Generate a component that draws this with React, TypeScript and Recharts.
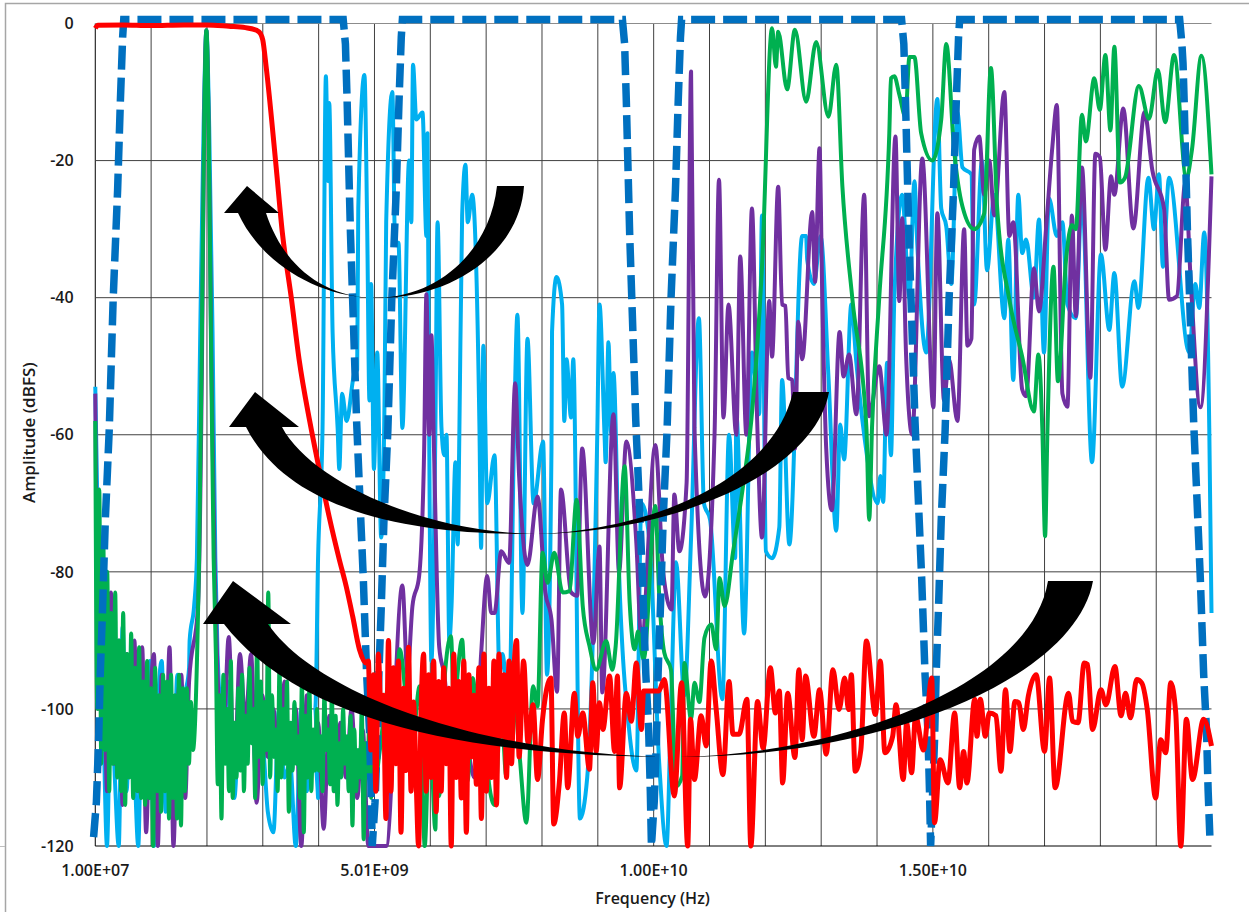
import React from "react";
import { LineChart, Line, XAxis, YAxis, ReferenceLine } from "recharts";

type Pt = [number, number];

const gridFreqs = [0.01, 1.01, 2.01, 3.01, 4.01, 5.01, 6.01, 7.01, 8.01, 9.01, 10.01, 11.01, 12.01, 13.01, 14.01, 15.01, 16.01, 17.01, 18.01, 19.01];
const labelledFreqs = [0.01, 5.01, 10.01, 15.01];
const tickLabels: Record<string, string> = { "0.01": "1.00E+07", "5.01": "5.01E+09", "10.01": "1.00E+10", "15.01": "1.50E+10" };
const levelTicks = [0, -20, -40, -60, -80, -100, -120];

const redPlateau: Pt[] = [[0.01, -0.7], [0.06, -0.25], [0.5, -0.2], [1, -0.3], [1.6, -0.2], [2, -0.2], [2.4, -0.4], [2.7, -0.6], [2.9, -1], [2.97, -1.5], [3.01, -2.4], [3.07, -6.3], [3.25, -21], [3.36, -30.5], [3.52, -40], [3.66, -49], [3.85, -58], [4.02, -65], [4.2, -72], [4.38, -78.2], [4.5, -82], [4.62, -86.5], [4.74, -91.3], [4.86, -93.3]];
const redDense = [-93, -106, -95, -112, -92, -100, -98, -116, -90, -112, -94, -108, -93, -118, -97, -109, -91, -112, -99, -110, -120, -100, -92, -112, -95, -110, -93, -115, -96, -112, -94, -108, -97, -120, -92, -110, -96, -113, -93, -118, -95, -107, -98, -111, -94, -116, -92, -112, -97, -110, -93, -114, -92, -104, -95, -110, -93, -108, -94, -90, -107];
const redFloor: Pt[] = [[7.68, -93], [7.76, -105], [7.85, -99.4], [7.93, -110.3], [8.02, -101.5], [8.17, -95.5], [8.22, -116.8], [8.32, -110.8], [8.41, -100.6], [8.47, -111.5], [8.59, -97.7], [8.65, -104], [8.74, -100.6], [8.86, -108.8], [8.92, -96.2], [8.98, -106.2], [9.04, -99.1], [9.1, -103], [9.22, -95.2], [9.31, -106.2], [9.36, -95.2], [9.4, -111.5], [9.52, -97.7], [9.61, -101.8], [9.7, -93.3], [9.79, -103], [9.83, -97.4], [10.1, -97.4], [10.2, -95.7], [10.38, -112.7], [10.51, -96.2], [10.62, -120], [10.67, -101.5], [10.74, -110.3], [10.86, -101], [10.95, -105.4], [11.04, -93], [11.13, -100.1], [11.25, -109.6], [11.36, -96], [11.43, -103.7], [11.54, -103.7], [11.68, -98.6], [11.75, -120], [11.87, -98.9], [11.97, -105.7], [12.1, -94], [12.19, -100.6], [12.26, -97.4], [12.32, -110.8], [12.41, -97.7], [12.54, -107.1], [12.61, -94.3], [12.67, -104.5], [12.73, -95.2], [12.88, -104], [12.98, -97.2], [13.1, -106.6], [13.22, -94.3], [13.33, -100.1], [13.43, -95.5], [13.5, -100.1], [13.55, -95], [13.62, -109.1], [13.72, -106], [13.82, -90.1], [13.98, -100.8], [14.07, -93], [14.15, -106.4], [14.29, -104], [14.35, -99.4], [14.48, -110.3], [14.54, -102], [14.63, -109.3], [14.7, -101], [14.84, -106], [14.99, -95.5], [15.04, -116.6], [15.14, -107.4], [15.28, -110.8], [15.4, -100.6], [15.49, -111.5], [15.56, -106.2], [15.62, -110.8], [15.76, -98.6], [15.8, -104], [15.86, -98.6], [15.95, -104], [16.02, -100.6], [16.14, -101], [16.23, -109.1], [16.31, -97.2], [16.39, -106.2], [16.48, -98.9], [16.55, -99.1], [16.63, -103], [16.72, -98.1], [16.86, -95], [17.01, -106.2], [17.1, -95.5], [17.2, -111.5], [17.44, -97.7], [17.51, -101.8], [17.61, -102], [17.72, -93.3], [17.78, -93.5], [17.87, -103], [18.02, -97.2], [18.11, -99.4], [18.27, -93.8], [18.38, -101], [18.46, -97.7], [18.55, -101.3], [18.66, -95.7], [18.75, -96.2], [18.85, -100.1], [19, -113], [19.09, -104.5], [19.18, -106.4], [19.27, -96.2], [19.36, -100.6], [19.45, -120], [19.55, -101.5], [19.66, -110.3], [19.86, -101.5], [20, -105.4]];

const greenNoiseLow = [-58, -100, -68, -108, -75, -106, -80, -112, -86, -108, -83, -110, -90, -112, -86, -114, -92, -110, -89, -113, -94, -112, -91, -113, -96, -114, -93, -113, -97, -120, -94, -112, -98, -115, -95, -112, -96, -116, -95, -113, -98, -116, -95, -117, -97, -112, -97, -108, -99, -106];
const greenTone: Pt[] = [[1.84, -90], [1.87, -78], [1.92, -45], [1.96, -15], [2, -1], [2.04, -15], [2.08, -45], [2.13, -78]];
const greenNoiseMid = [-92, -111, -98, -116, -95, -108, -100, -112, -93, -113, -102, -110, -97, -109, -95, -112, -101, -108, -94, -105, -100, -113, -90, -107, -96, -111, -99, -106, -83, -110, -98, -107, -103, -112, -94, -110, -100, -108, -96, -115, -102, -109, -99, -108, -104, -113, -96, -118, -101, -110, -97, -112, -103, -109, -100, -109, -104, -112, -98, -106, -103, -111, -98, -112, -101, -114, -105, -110, -100, -108, -104, -112, -101, -117, -103, -112, -106, -110, -100, -119, -105, -110, -102, -113, -101, -111];
const greenHigh: Pt[] = [[5.1, -106.4], [5.28, -96.2], [5.37, -104], [5.46, -91.3], [5.58, -99], [5.67, -106.4], [5.82, -96.7], [5.91, -120], [6, -101.5], [6.1, -117.6], [6.14, -98], [6.17, -112.7], [6.26, -96.2], [6.38, -89.4], [6.44, -101.5], [6.5, -94.7], [6.58, -89.9], [6.68, -110.5], [6.77, -95.5], [6.92, -110.8], [6.98, -96.7], [7.06, -110.8], [7.16, -114], [7.28, -100], [7.37, -109.8], [7.46, -93.3], [7.61, -106.9], [7.73, -116.6], [7.85, -96.7], [7.93, -99.6], [8.02, -77.2], [8.11, -81.6], [8.23, -77.2], [8.38, -83], [8.5, -82.8], [8.63, -69.5], [8.74, -85], [8.86, -90.8], [8.98, -94.3], [9.16, -90.1], [9.27, -94.3], [9.33, -90.8], [9.49, -64.6], [9.58, -84.5], [9.67, -91.3], [9.73, -88.7], [9.83, -92.8], [10.04, -70.4], [10.11, -83.6], [10.2, -91.8], [10.32, -94.3], [10.41, -111.3], [10.52, -109.8], [10.56, -93.3], [10.68, -101.5], [10.74, -96.2], [10.83, -99], [10.92, -89.6], [11.04, -87.7], [11.13, -91.3], [11.19, -80.9], [11.28, -85], [11.43, -77.2], [11.61, -67.5], [11.76, -57.8], [11.95, -35.5], [12.13, -0.7], [12.2, -6.3], [12.24, -1.2], [12.4, -9.6], [12.54, -0.9], [12.74, -11.4], [12.92, -2.7], [13.14, -13.6], [13.28, -6], [13.39, -23.8], [13.57, -40.3], [13.82, -59], [13.87, -72.4], [13.92, -59], [14.05, -40], [14.23, -16], [14.26, -8], [14.32, -7.7], [14.41, -10.4], [14.52, -13.6], [14.59, -4.9], [14.68, -4.9], [14.8, -16], [15, -20], [15.16, -14], [15.25, -3], [15.39, -18.4], [15.54, -26.7], [15.75, -30], [15.93, -27.7], [16.05, -6.5], [16.16, -26.7], [16.38, -40.3], [16.61, -48.6], [16.82, -56.6], [16.9, -48.3], [16.97, -59], [17.02, -74.8], [17.06, -60], [17.17, -35.5], [17.25, -52.2], [17.4, -34], [17.5, -29.4], [17.57, -30], [17.68, -13.3], [17.75, -17.2], [17.9, -8], [18, -12.6], [18.1, -4.6], [18.19, -15.6], [18.26, -3.4], [18.36, -23.2], [18.45, -22.5], [18.7, -9.1], [18.88, -13.9], [19.04, -6.8], [19.17, -14.4], [19.33, -4.6], [19.55, -22.6], [19.65, -18.4], [19.82, -4.7], [20, -22]];

const purpleNoiseLow = [-54, -100, -84, -112, -83, -108, -90, -114, -92, -105, -90, -112, -91, -118, -100, -92, -120, -95, -108, -91, -120, -100, -95, -113, -96];
const purpleTone: Pt[] = [[1.85, -85], [1.92, -50], [1.96, -15], [2, -1], [2.04, -15], [2.09, -50], [2.15, -80]];
const purpleNoiseMid = [-95, -105, -89.5, -110, -92, -102, -92, -113.7, -98, -107, -100, -110, -96, -109, -100, -120, -98, -108, -102, -117.5, -101, -112, -102, -110, -100, -113, -103, -120];
const purpleHigh: Pt[] = [[5.22, -120], [5.51, -82], [5.6, -95], [5.69, -85], [5.81, -80.6], [5.9, -62], [5.94, -39.5], [5.99, -60], [6.03, -45.5], [6.07, -60], [6.17, -91], [6.26, -95], [6.44, -110], [6.62, -104], [6.8, -110], [6.92, -92], [7.03, -80.6], [7.1, -86], [7.16, -86], [7.28, -77], [7.42, -78.7], [7.53, -52.5], [7.6, -66], [7.75, -79], [7.93, -69], [8.07, -83], [8.18, -87], [8.28, -97.5], [8.35, -68], [8.53, -83], [8.64, -83.5], [8.73, -62], [8.93, -90.4], [9.04, -76.3], [9.09, -97.6], [9.29, -57], [9.39, -80], [9.52, -61], [9.7, -75.8], [9.79, -90], [10.04, -61.5], [10.18, -80], [10.33, -85.5], [10.38, -68.7], [10.47, -77], [10.6, -67], [10.68, -7], [10.74, -59], [10.93, -83.6], [11.1, -60], [11.18, -22.8], [11.26, -57.5], [11.35, -41], [11.49, -60], [11.56, -34], [11.67, -60], [11.77, -27], [11.86, -57], [11.95, -75], [12.08, -40.5], [12.13, -48.6], [12.24, -23.8], [12.31, -41], [12.37, -41.2], [12.42, -51.7], [12.49, -52], [12.54, -62], [12.6, -43.5], [12.67, -49], [12.85, -27.5], [12.9, -37.7], [12.98, -18.2], [13.03, -40], [13.1, -62], [13.2, -71], [13.34, -45], [13.41, -51.5], [13.51, -48.3], [13.64, -57], [13.78, -25], [13.87, -57.3], [14.05, -50], [14.18, -60], [14.34, -16.5], [14.41, -40.5], [14.46, -28.4], [14.53, -48.3], [14.64, -60], [14.82, -19.7], [15.02, -56], [15.09, -27.7], [15.21, -55], [15.3, -49], [15.45, -58], [15.57, -30], [15.63, -47], [15.7, -46], [15.75, -18.4], [15.84, -16.5], [15.93, -25], [16.02, -20], [16.11, -28], [16.29, -10], [16.38, -31], [16.45, -29], [16.61, -53.4], [16.68, -54.4], [16.82, -35.7], [16.91, -42], [17.04, -29.6], [17.15, -18], [17.23, -11.9], [17.33, -54], [17.42, -55.9], [17.5, -28], [17.57, -42.7], [17.68, -21], [17.83, -51.7], [17.92, -19], [18, -19.5], [18.1, -33], [18.2, -22.3], [18.26, -25], [18.42, -12.4], [18.6, -29.9], [18.8, -12.9], [18.94, -21.4], [19.15, -27], [19.24, -40.3], [19.38, -39.8], [19.53, -23.3], [19.63, -37.9], [19.8, -56], [20, -22.3]];

const cyanNoiseLow = [-53, -85, -100, -120, -96, -110, -120, -88, -112, -98, -108, -120, -95, -112, -93, -120, -100, -93, -115, -97, -110, -95, -105, -98, -94];
const cyanTone: Pt[] = [[1.7, -90], [1.78, -85], [1.83, -78], [1.89, -45], [1.95, -15], [2, -1], [2.05, -15], [2.11, -45], [2.16, -78], [2.2, -92]];
const cyanNoiseMid = [-103, -96, -113, -100, -108, -98, -110, -105, -115, -118, -100, -110, -108, -120, -100, -112, -105, -113];
const cyanHigh: Pt[] = [[3.95, -100], [4, -78], [4.08, -59], [4.14, -7.7], [4.18, -23], [4.2, -11.6], [4.26, -45], [4.35, -59], [4.38, -65], [4.43, -54], [4.51, -58], [4.65, -51], [4.7, -50.5], [4.72, -27], [4.83, -7.5], [4.88, -30], [4.92, -55], [4.95, -38], [5, -65], [5.06, -48], [5.13, -75], [5.19, -55], [5.22, -29], [5.33, -10], [5.38, -32], [5.44, -32], [5.51, -59], [5.63, -20], [5.67, -29], [5.7, -6], [5.76, -14], [5.87, -13], [5.94, -31], [5.96, -16], [5.99, -60], [6.03, -93], [6.1, -60], [6.14, -29], [6.21, -59], [6.26, -63], [6.3, -60], [6.35, -90], [6.39, -85], [6.46, -64], [6.5, -76], [6.53, -60], [6.58, -28], [6.64, -20.6], [6.68, -29], [6.76, -25], [6.89, -59], [6.92, -76.5], [6.96, -47], [7.03, -70], [7.16, -63], [7.25, -95], [7.3, -92], [7.42, -100], [7.51, -60], [7.57, -42.5], [7.66, -86], [7.75, -46], [7.86, -70], [8.03, -61], [8.1, -95], [8.18, -62], [8.19, -45], [8.27, -37], [8.37, -41], [8.41, -58], [8.45, -49], [8.53, -57.5], [8.57, -49], [8.69, -116], [8.82, -110], [9, -60], [9.04, -41], [9.13, -60], [9.15, -64], [9.2, -46.5], [9.25, -60], [9.29, -51], [9.39, -80], [9.57, -103], [9.7, -109], [9.79, -70], [9.93, -75], [10.11, -108], [10.24, -120], [10.32, -100], [10.41, -78.6], [10.56, -98], [10.68, -75], [10.82, -43], [10.91, -70], [11.02, -72.4], [11.24, -98.6], [11.36, -60], [11.47, -78], [11.49, -57], [11.63, -89], [11.77, -48], [11.9, -57], [11.95, -28], [12.02, -77], [12.13, -78], [12.26, -73.5], [12.31, -52], [12.44, -76], [12.67, -31], [12.74, -31], [12.76, -34.5], [12.88, -38], [13, -31], [13.14, -51.5], [13.28, -74], [13.35, -58.5], [13.42, -63.6], [13.55, -41], [13.64, -49.5], [13.78, -60], [14.02, -70], [14.07, -66], [14.12, -69.8], [14.19, -49.5], [14.26, -63], [14.32, -40], [14.46, -25], [14.59, -40], [14.68, -23], [14.73, -32], [14.89, -48], [15.09, -11], [15.16, -27], [15.25, -29.6], [15.34, -38], [15.45, -13], [15.54, -21], [15.7, -22], [15.75, -41], [15.89, -20], [15.98, -36], [16.11, -25], [16.29, -43], [16.36, -31.5], [16.45, -52], [16.54, -25], [16.61, -33.5], [16.68, -31.5], [16.82, -40], [16.91, -28.6], [17, -48], [17.09, -25.5], [17.23, -31], [17.33, -29], [17.42, -41], [17.57, -43], [17.68, -25], [17.86, -64], [18.02, -33.7], [18.17, -44.7], [18.26, -36.4], [18.4, -53], [18.62, -37.6], [18.69, -41.5], [18.87, -22.5], [18.97, -30], [19.06, -22], [19.13, -35.5], [19.24, -22.5], [19.6, -48], [19.71, -38], [19.78, -41.5], [19.87, -30.5], [19.96, -59], [20, -86]];

const maskTrace: Pt[] = [
  [-0.02, -118.7], [0.03, -113.6], [0.07, -104.5], [0.1, -94.7], [0.14, -85.5], [0.19, -72.4], [0.26, -59.3], [0.33, -40.3], [0.41, -24.3], [0.46, -11.2], [0.5, -2], [0.52, 0.6],
  [4.45, 0.6], [4.49, -3], [4.5, -5.8], [4.52, -11.2], [4.55, -21], [4.58, -30.6], [4.63, -43], [4.69, -58], [4.81, -81], [4.87, -95], [4.92, -103], [4.95, -112], [4.97, -120],
  [5.02, -113.6], [5.06, -104.5], [5.09, -94.7], [5.13, -85.5], [5.18, -72.4], [5.25, -59.3], [5.32, -40.3], [5.4, -24.3], [5.45, -11.2], [5.49, -2], [5.51, 0.6],
  [9.45, 0.6], [9.49, -3], [9.5, -5.8], [9.52, -11.2], [9.55, -21], [9.58, -30.6], [9.63, -43], [9.69, -58], [9.81, -81], [9.87, -95], [9.92, -103], [9.95, -112], [9.97, -120],
  [10.02, -113.6], [10.06, -104.5], [10.09, -94.7], [10.13, -85.5], [10.18, -72.4], [10.25, -59.3], [10.32, -40.3], [10.4, -24.3], [10.45, -11.2], [10.49, -2], [10.51, 0.6],
  [14.45, 0.6], [14.49, -3], [14.5, -5.8], [14.52, -11.2], [14.55, -21], [14.58, -30.6], [14.63, -43], [14.69, -58], [14.81, -81], [14.87, -95], [14.92, -103], [14.95, -112], [14.97, -120],
  [15, -113.6], [15.04, -104.5], [15.07, -94.7], [15.11, -85.5], [15.16, -72.4], [15.23, -59.3], [15.3, -40.3], [15.38, -24.3], [15.43, -11.2], [15.47, -2], [15.49, 0.6],
  [19.43, 0.6], [19.47, -3], [19.49, -5.8], [19.51, -11.2], [19.54, -21], [19.57, -30.6], [19.62, -43], [19.68, -58], [19.8, -81], [19.86, -95], [19.91, -103], [19.94, -112], [19.97, -118.5],
];

const spread = (start: number, step: number, levels: number[]): Pt[] => levels.map((v, i) => [start + i * step, v]);
const rows = (pts: Pt[]) => pts.map(([f, db]) => ({ f, db }));

const cyanData = rows([...spread(0.01, 0.07, cyanNoiseLow), ...cyanTone, ...spread(2.3, 0.1, cyanNoiseMid), ...cyanHigh]);
const purpleData = rows([...spread(0.01, 0.07, purpleNoiseLow), ...purpleTone, ...spread(2.2, 0.1, purpleNoiseMid), ...purpleHigh]);
const greenData = rows([...spread(0.01, 0.0357, greenNoiseLow), ...greenTone, ...spread(2.17, 0.0335, greenNoiseMid), ...greenHigh]);
const redData = rows([...redPlateau, ...spread(4.9, 0.045, redDense), ...redFloor]);
const maskData = rows(maskTrace);

const font = "'Open Sans', sans-serif";
const textStyle = { fontFamily: font, fontWeight: 600, fill: "#1a1a1a" };

const Annotations = () => (
  <svg width={1249} height={912} style={{ position: "absolute", left: 0, top: 0, pointerEvents: "none" }}>
    <path d="M5.5 912 L5.5 3.5 L1249 3.5" fill="none" stroke="#a6a6a6" strokeWidth={1.5} />
    <path d="M0 846.5 L5 846.5" fill="none" stroke="#bfbfbf" strokeWidth={1} />
    <path fill="#000" d="M524 186 C520 250 455 298 378 298 C320 298 262 265 238 213 L224 213 L247 186 L279 213 L266 213 C282 262 320 298 378 298 C440 296 490 250 497 186 Z" />
    <path fill="#000" d="M829 392 C815 470 680 533 535 534 C420 535 290 515 246 427 L229 427 L255 392 L299 427 L282 427 C310 480 420 532 535 534 C630 532 770 490 793 392 Z" />
    <path fill="#000" d="M1093 581 C1075 680 880 757 680 757 C510 757 310 735 224 624 L203 624 L233 581 L291 624 L268 624 C320 700 500 757 680 757 C830 755 1030 690 1048 581 Z" />
  </svg>
);

export default function App() {
  return (
    <div style={{ position: "absolute", left: 0, top: 0, width: 1249, height: 912 }}>
      <LineChart width={1249} height={912} margin={{ top: 19.4, right: 37.5, bottom: 0, left: 0 }}>
        <XAxis
          type="number"
          dataKey="f"
          domain={[-0.02, 20]}
          ticks={labelledFreqs}
          interval={0}
          height={66}
          tickLine={false}
          axisLine={false}
          tick={{ ...textStyle, fontSize: 16 }}
          tickMargin={13}
          tickFormatter={(v: number) => tickLabels[String(v)] ?? ""}
          label={{ value: "Frequency (Hz)", position: "insideBottom", offset: 8, style: { ...textStyle, fontSize: 16 } }}
        />
        <YAxis
          type="number"
          domain={[-120, 0.6]}
          ticks={levelTicks}
          interval={0}
          width={93.6}
          tickLine={false}
          axisLine={false}
          tick={{ ...textStyle, fontSize: 16 }}
          tickMargin={14}
          label={{ value: "Amplitude (dBFS)", angle: -90, position: "insideLeft", offset: 29, style: { ...textStyle, textAnchor: "middle", fontSize: 17 } }}
        />
        {gridFreqs.map((f) => (
          <ReferenceLine key={`v${f}`} segment={[{ x: f, y: -120 }, { x: f, y: 0 }]} stroke={f === 0.01 ? "#000" : "#404040"} strokeWidth={1} />
        ))}
        {levelTicks.map((d) => (
          <ReferenceLine key={`h${d}`} segment={[{ x: 0.01, y: d }, { x: 20, y: d }]} stroke={d === -120 ? "#000" : d === 0 ? "#8c8c8c" : "#404040"} strokeWidth={1} />
        ))}
        <Line data={cyanData} dataKey="db" type="monotone" stroke="#00B0F0" strokeWidth={4} strokeLinejoin="round" dot={false} isAnimationActive={false} />
        <Line data={purpleData} dataKey="db" type="monotone" stroke="#7030A0" strokeWidth={4} strokeLinejoin="round" dot={false} isAnimationActive={false} />
        <Line data={greenData} dataKey="db" type="monotone" stroke="#00B050" strokeWidth={4} strokeLinejoin="round" dot={false} isAnimationActive={false} />
        <Line data={maskData} dataKey="db" type="linear" stroke="#0070C0" strokeWidth={7.5} strokeDasharray="24 8" dot={false} isAnimationActive={false} />
        <Line data={redData} dataKey="db" type="monotone" stroke="#FF0000" strokeWidth={5} strokeLinejoin="round" dot={false} isAnimationActive={false} />
      </LineChart>
      <Annotations />
    </div>
  );
}
